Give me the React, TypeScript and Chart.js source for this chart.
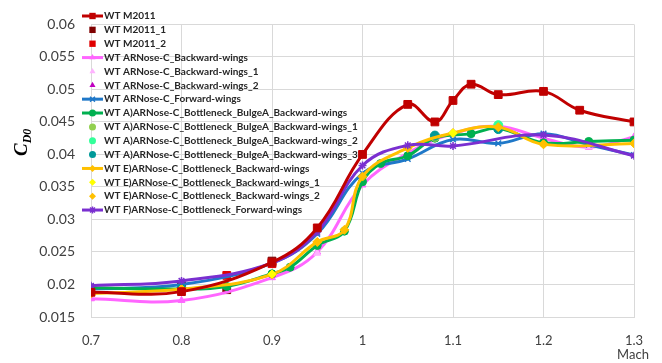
import React, { useEffect, useRef } from 'react';
import { Chart, registerables } from 'chart.js';

Chart.register(...registerables);

// ---------- data ----------
const xTickValues = [0.7, 0.8, 0.9, 1.0, 1.1, 1.2, 1.3];
const yTickValues = [0.015, 0.02, 0.025, 0.03, 0.035, 0.04, 0.045, 0.05, 0.055, 0.06];

const machM2011 = [0.7, 0.8, 0.9, 0.95, 1.0, 1.05, 1.08, 1.1, 1.12, 1.15, 1.2, 1.24, 1.3];
const cdM2011 = [0.0188, 0.0189, 0.0234, 0.0287, 0.04, 0.0477, 0.045, 0.0483, 0.0508, 0.0492, 0.0497, 0.0468, 0.045];

const machM2011_1 = [0.8, 0.85, 0.9];
const cdM2011_1 = [0.0198, 0.0192, 0.0236];

const machM2011_2 = [0.85, 0.9];
const cdM2011_2 = [0.0214, 0.0232];

const machArBack = [0.7, 0.8, 0.9, 0.95, 1.0, 1.05, 1.1, 1.15, 1.2, 1.25, 1.3];
const cdArBack = [0.0178, 0.01755, 0.02105, 0.025, 0.0353, 0.0402, 0.0432, 0.0443, 0.0425, 0.0411, 0.0427];

const machArBack_1 = [0.95, 1.25];
const cdArBack_1 = [0.0248, 0.0412];

const machArBack_2 = [0.8, 1.15];
const cdArBack_2 = [0.0194, 0.044];

const machArFwd = [0.7, 0.8, 0.9, 0.95, 1.0, 1.05, 1.1, 1.15, 1.2, 1.25, 1.3];
const cdArFwd = [0.0193, 0.02, 0.0233, 0.0278, 0.0371, 0.0393, 0.0423, 0.0417, 0.0432, 0.0415, 0.0399];

const machBulge = [0.7, 0.8, 0.85, 0.9, 0.92, 0.95, 0.98, 1.0, 1.02, 1.05, 1.08, 1.12, 1.15, 1.2, 1.25, 1.3];
const cdBulge = [0.0195, 0.0193, 0.0197, 0.02165, 0.02265, 0.026, 0.0282, 0.0358, 0.0386, 0.0398, 0.0425, 0.0432, 0.044, 0.0418, 0.042, 0.0422];

const machBulge_1 = [0.8, 1.08];
const cdBulge_1 = [0.0192, 0.0427];

const machBulge_2 = [0.8, 1.15];
const cdBulge_2 = [0.0193, 0.0445];

const machBulge_3 = [0.8, 1.08, 1.15];
const cdBulge_3 = [0.0194, 0.0429, 0.0439];

const machEBack = [0.7, 0.8, 0.9, 0.95, 0.98, 1.0, 1.05, 1.1, 1.15, 1.2, 1.3];
const cdEBack = [0.0186, 0.0193, 0.02155, 0.02655, 0.0284, 0.0366, 0.041, 0.0433, 0.0442, 0.04155, 0.0417];

const machEBack_1 = [0.9, 1.1];
const cdEBack_1 = [0.0216, 0.0433];

const machEBack_2 = [0.95, 1.2];
const cdEBack_2 = [0.0265, 0.0416];

const machFFwd = [0.7, 0.8, 0.9, 0.95, 1.0, 1.05, 1.1, 1.2, 1.3];
const cdFFwd = [0.0198, 0.02055, 0.0233, 0.0281, 0.0383, 0.0414, 0.0413, 0.043, 0.0398];

type SeriesDef = {
  label: string;
  mach: number[];
  cd: number[];
  color: string;
  style: string;
  radius: number;
  line: boolean;
};

const series: SeriesDef[] = [
  { label: 'WT M2011', mach: machM2011, cd: cdM2011, color: '#c00000', style: 'rect', radius: 5.5, line: true },
  { label: 'WT M2011_1', mach: machM2011_1, cd: cdM2011_1, color: '#7f0000', style: 'rect', radius: 5.5, line: false },
  { label: 'WT M2011_2', mach: machM2011_2, cd: cdM2011_2, color: '#e00000', style: 'rect', radius: 5.5, line: false },
  { label: 'WT ARNose-C_Backward-wings', mach: machArBack, cd: cdArBack, color: '#ff66ff', style: 'triangle', radius: 4, line: true },
  { label: 'WT ARNose-C_Backward-wings_1', mach: machArBack_1, cd: cdArBack_1, color: '#ffb3ff', style: 'triangle', radius: 4, line: false },
  { label: 'WT ARNose-C_Backward-wings_2', mach: machArBack_2, cd: cdArBack_2, color: '#c000c0', style: 'triangle', radius: 4, line: false },
  { label: 'WT ARNose-C_Forward-wings', mach: machArFwd, cd: cdArFwd, color: '#1f78c8', style: 'crossRot', radius: 4, line: true },
  { label: 'WT A)ARNose-C_Bottleneck_BulgeA_Backward-wings', mach: machBulge, cd: cdBulge, color: '#00b050', style: 'circle', radius: 4, line: true },
  { label: 'WT A)ARNose-C_Bottleneck_BulgeA_Backward-wings_1', mach: machBulge_1, cd: cdBulge_1, color: '#92d050', style: 'circle', radius: 4.5, line: false },
  { label: 'WT A)ARNose-C_Bottleneck_BulgeA_Backward-wings_2', mach: machBulge_2, cd: cdBulge_2, color: '#33ff99', style: 'circle', radius: 4.5, line: false },
  { label: 'WT A)ARNose-C_Bottleneck_BulgeA_Backward-wings_3', mach: machBulge_3, cd: cdBulge_3, color: '#009999', style: 'circle', radius: 4.5, line: false },
  { label: 'WT E)ARNose-C_Bottleneck_Backward-wings', mach: machEBack, cd: cdEBack, color: '#ffc000', style: 'rectRot', radius: 4.5, line: true },
  { label: 'WT E)ARNose-C_Bottleneck_Backward-wings_1', mach: machEBack_1, cd: cdEBack_1, color: '#ffff00', style: 'rectRot', radius: 4, line: false },
  { label: 'WT E)ARNose-C_Bottleneck_Backward-wings_2', mach: machEBack_2, cd: cdEBack_2, color: '#ffc000', style: 'rectRot', radius: 4, line: false },
  { label: 'WT F)ARNose-C_Bottleneck_Forward-wings', mach: machFFwd, cd: cdFFwd, color: '#7a2fd0', style: 'star', radius: 4, line: true },
];

const TICK_FONT = 'Lato';

function drawMarker(ctx: CanvasRenderingContext2D, style: string, x: number, y: number, r: number, color: string) {
  ctx.save();
  ctx.fillStyle = color;
  ctx.strokeStyle = color;
  ctx.lineWidth = 1.5;
  ctx.beginPath();
  if (style === 'rect') {
    const s = r * Math.SQRT1_2;
    ctx.rect(x - s, y - s, 2 * s, 2 * s);
    ctx.fill();
  } else if (style === 'circle') {
    ctx.arc(x, y, r, 0, Math.PI * 2);
    ctx.fill();
  } else if (style === 'triangle') {
    ctx.moveTo(x, y - r);
    ctx.lineTo(x + r * 0.866, y + r * 0.5);
    ctx.lineTo(x - r * 0.866, y + r * 0.5);
    ctx.closePath();
    ctx.fill();
  } else if (style === 'rectRot') {
    ctx.moveTo(x, y - r);
    ctx.lineTo(x + r, y);
    ctx.lineTo(x, y + r);
    ctx.lineTo(x - r, y);
    ctx.closePath();
    ctx.fill();
  } else if (style === 'crossRot' || style === 'star') {
    const d = r * Math.SQRT1_2;
    ctx.moveTo(x - d, y - d);
    ctx.lineTo(x + d, y + d);
    ctx.moveTo(x - d, y + d);
    ctx.lineTo(x + d, y - d);
    if (style === 'star') {
      ctx.moveTo(x - r, y);
      ctx.lineTo(x + r, y);
      ctx.moveTo(x, y - r);
      ctx.lineTo(x, y + r);
    }
    ctx.stroke();
  }
  ctx.restore();
}

const overlayPlugin = {
  id: 'overlay',
  afterDraw(chart: any) {
    const ctx: CanvasRenderingContext2D = chart.ctx;
    // legend
    const x0 = 82;
    const x1 = 103;
    const top = 16;
    const step = 13.86;
    series.forEach((s, i) => {
      const y = top + i * step;
      if (s.line) {
        ctx.save();
        ctx.strokeStyle = s.color;
        ctx.lineWidth = 3;
        ctx.beginPath();
        ctx.moveTo(x0, y);
        ctx.lineTo(x1, y);
        ctx.stroke();
        ctx.restore();
      }
      drawMarker(ctx, s.style, (x0 + x1) / 2, y, s.style === 'rect' ? 4.5 : 3.5, s.color);
      ctx.save();
      ctx.font = 'bold 10px Lato';
      ctx.fillStyle = '#262626';
      ctx.textBaseline = 'middle';
      ctx.textAlign = 'left';
      ctx.fillText(s.label, x1 + 1, y);
      ctx.restore();
    });
    // y title C_D0
    ctx.save();
    ctx.translate(27, 156);
    ctx.rotate(-Math.PI / 2);
    ctx.fillStyle = '#000000';
    ctx.textBaseline = 'alphabetic';
    ctx.font = 'italic bold 19px "Liberation Serif"';
    ctx.fillText('C', 0, 0);
    const w = ctx.measureText('C').width;
    ctx.font = 'italic bold 12px "Liberation Serif"';
    ctx.fillText('D0', w, 4);
    ctx.restore();
    // Mach label
    ctx.save();
    ctx.font = '13px ' + TICK_FONT;
    ctx.fillStyle = '#404040';
    ctx.textAlign = 'center';
    ctx.textBaseline = 'middle';
    ctx.fillText('Mach', chart.chartArea.right - 1, 355);
    ctx.restore();
  },
};

export default function App() {
  const ref = useRef<HTMLCanvasElement | null>(null);
  useEffect(() => {
    document.body.style.margin = '0';
    const canvas = ref.current;
    if (!canvas) return;
    const datasets = series.map((s, i) => ({
      label: s.label,
      data: s.mach.map((m, k) => ({ x: m, y: s.cd[k] })),
      borderColor: s.color,
      backgroundColor: s.color,
      borderWidth: 3,
      showLine: s.line,
      tension: 0.4,
      pointStyle: s.style as any,
      pointRadius: s.radius,
      pointBorderWidth: s.style === 'crossRot' || s.style === 'star' ? 1.5 : 1,
      pointBorderColor: s.color,
      pointBackgroundColor: s.color,
      order: i === 0 ? 0 : 100 - i,
    }));
    const chart = new Chart(canvas, {
      type: 'line',
      data: { datasets },
      plugins: [overlayPlugin],
      options: {
        responsive: false,
        animation: false,
        layout: { padding: { left: 0, right: 28, top: 17, bottom: 0 } },
        plugins: { legend: { display: false }, tooltip: { enabled: false } },
        scales: {
          x: {
            type: 'linear',
            min: 0.7,
            max: 1.3,
            afterBuildTicks: (s: any) => {
              s.ticks = xTickValues.map((v) => ({ value: v }));
            },
            afterFit: (s: any) => {
              s.height = 46;
            },
            ticks: {
              padding: 16,
              color: '#404040',
              font: { family: TICK_FONT, size: 13 },
              callback: (v: any) => String(Math.round(Number(v) * 10) / 10),
            },
            grid: { color: '#d9d9d9', drawTicks: false, lineWidth: 1 },
            border: { color: '#d9d9d9' },
          },
          y: {
            type: 'linear',
            min: 0.015,
            max: 0.06,
            afterBuildTicks: (s: any) => {
              s.ticks = yTickValues.map((v) => ({ value: v }));
            },
            afterFit: (s: any) => {
              s.width = 91;
            },
            ticks: {
              padding: 16,
              color: '#404040',
              font: { family: TICK_FONT, size: 14 },
              callback: (v: any) => String(Math.round(Number(v) * 1000) / 1000),
            },
            grid: { color: '#d9d9d9', drawTicks: false, lineWidth: 1 },
            border: { color: '#d9d9d9' },
          },
        },
      },
    });
    return () => chart.destroy();
  }, []);
  return (
    <div style={{ width: 662, height: 363 }}>
      <canvas ref={ref} width={662} height={363} style={{ display: 'block' }} />
    </div>
  );
}
